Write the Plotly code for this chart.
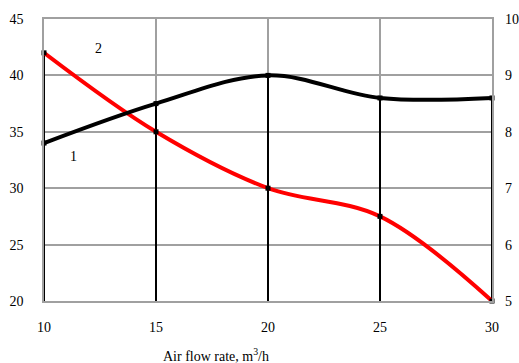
import plotly.graph_objects as go

flow = [10, 15, 20, 25, 30]
curve1 = [34.0, 37.5, 40.0, 38.0, 38.0]   # black, label "1"
curve2 = [42.0, 35.0, 30.0, 27.5, 20.0]   # red, label "2"
left_ticks = [20, 25, 30, 35, 40, 45]
right_ticks = [5, 6, 7, 8, 9, 10]
x_ticks = [10, 15, 20, 25, 30]

FONT = "Liberation Serif"
GRID = "#a0a0a0"

# top of each drop line = the higher curve at that x
tops = [max(a, b) for a, b in zip(curve1, curve2)]
ymin = left_ticks[0]

fig = go.Figure()

# vertical black drop lines from the curves down to the x axis
for x, t in zip(flow, tops):
    fig.add_trace(go.Scatter(x=[x, x], y=[t, ymin], mode="lines",
                             line=dict(color="black", width=2),
                             cliponaxis=False, hoverinfo="skip", showlegend=False))

fig.add_trace(go.Scatter(x=flow, y=curve2, mode="lines+markers",
                         line=dict(color="#ff0000", width=4, shape="spline", smoothing=1),
                         marker=dict(symbol="square", size=5, color="black"),
                         cliponaxis=False, showlegend=False))
fig.add_trace(go.Scatter(x=flow, y=curve1, mode="lines+markers",
                         line=dict(color="black", width=4, shape="spline", smoothing=1),
                         marker=dict(symbol="square", size=5, color="black"),
                         cliponaxis=False, showlegend=False))
# invisible trace for right axis
fig.add_trace(go.Scatter(x=[flow[0]], y=[right_ticks[0]], yaxis="y2", mode="markers",
                         marker=dict(opacity=0), hoverinfo="skip", showlegend=False))

fig.add_annotation(x=11.3, y=32.8, text="1", showarrow=False,
                   font=dict(family=FONT, size=14, color="black"))
fig.add_annotation(x=12.45, y=42.4, text="2", showarrow=False,
                   font=dict(family=FONT, size=14, color="black"))
fig.add_annotation(x=0.385, xref="paper", y=-0.19, yref="paper", yanchor="middle",
                   text="Air flow rate, m<sup>3</sup>/h", showarrow=False,
                   font=dict(family=FONT, size=14, color="black"))

fig.update_layout(
    width=519, height=363,
    margin=dict(l=44, r=27, t=19, b=62),
    plot_bgcolor="white", paper_bgcolor="white",
    font=dict(family=FONT, size=14, color="black"),
    xaxis=dict(range=[flow[0], flow[-1]], tickvals=x_ticks, showgrid=True,
               gridcolor=GRID, gridwidth=1.5, showline=True, linecolor=GRID,
               linewidth=1.5, mirror=True, zeroline=False, ticks="",
               ticklabelstandoff=12, automargin=False,
               tickfont=dict(family=FONT, size=14, color="black")),
    yaxis=dict(range=[left_ticks[0], left_ticks[-1]], tickvals=left_ticks,
               showgrid=True, gridcolor=GRID, gridwidth=1.5, showline=True,
               linecolor=GRID, linewidth=1.5, mirror=True, zeroline=False,
               ticks="", ticklabelstandoff=16, automargin=False,
               tickfont=dict(family=FONT, size=14, color="black")),
    yaxis2=dict(range=[right_ticks[0], right_ticks[-1]], tickvals=right_ticks,
                overlaying="y", side="right", showgrid=False, zeroline=False,
                showline=False, ticks="", ticklabelstandoff=12, automargin=False,
                tickfont=dict(family=FONT, size=14, color="black")),
)

fig.write_html("out.html")
